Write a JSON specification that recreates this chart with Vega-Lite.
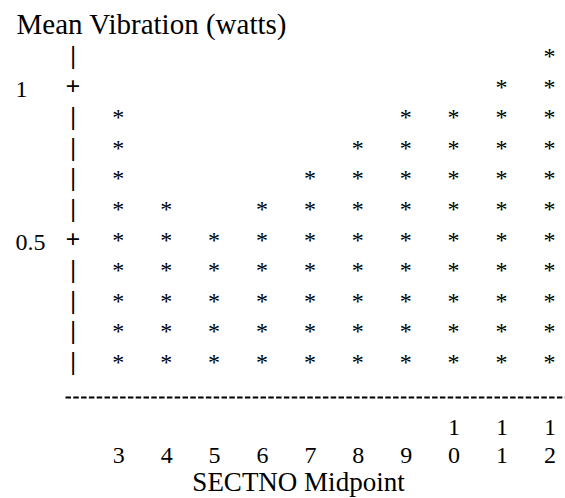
{
  "$schema": "https://vega.github.io/schema/vega-lite/v6.json",
  "width": 500,
  "height": 397,
  "autosize": {"type": "none"},
  "padding": {"left": 65, "top": 0, "right": 0, "bottom": 101},
  "background": "white",
  "config": {"view": {"stroke": null}, "font": "Liberation Serif"},
  "datasets": {
    "stars": [
      {"SECTNO": 3, "level": 0.1}, {"SECTNO": 3, "level": 0.2}, {"SECTNO": 3, "level": 0.3}, {"SECTNO": 3, "level": 0.4}, {"SECTNO": 3, "level": 0.5}, {"SECTNO": 3, "level": 0.6}, {"SECTNO": 3, "level": 0.7}, {"SECTNO": 3, "level": 0.8}, {"SECTNO": 3, "level": 0.9},
      {"SECTNO": 4, "level": 0.1}, {"SECTNO": 4, "level": 0.2}, {"SECTNO": 4, "level": 0.3}, {"SECTNO": 4, "level": 0.4}, {"SECTNO": 4, "level": 0.5}, {"SECTNO": 4, "level": 0.6},
      {"SECTNO": 5, "level": 0.1}, {"SECTNO": 5, "level": 0.2}, {"SECTNO": 5, "level": 0.3}, {"SECTNO": 5, "level": 0.4}, {"SECTNO": 5, "level": 0.5},
      {"SECTNO": 6, "level": 0.1}, {"SECTNO": 6, "level": 0.2}, {"SECTNO": 6, "level": 0.3}, {"SECTNO": 6, "level": 0.4}, {"SECTNO": 6, "level": 0.5}, {"SECTNO": 6, "level": 0.6},
      {"SECTNO": 7, "level": 0.1}, {"SECTNO": 7, "level": 0.2}, {"SECTNO": 7, "level": 0.3}, {"SECTNO": 7, "level": 0.4}, {"SECTNO": 7, "level": 0.5}, {"SECTNO": 7, "level": 0.6}, {"SECTNO": 7, "level": 0.7},
      {"SECTNO": 8, "level": 0.1}, {"SECTNO": 8, "level": 0.2}, {"SECTNO": 8, "level": 0.3}, {"SECTNO": 8, "level": 0.4}, {"SECTNO": 8, "level": 0.5}, {"SECTNO": 8, "level": 0.6}, {"SECTNO": 8, "level": 0.7}, {"SECTNO": 8, "level": 0.8},
      {"SECTNO": 9, "level": 0.1}, {"SECTNO": 9, "level": 0.2}, {"SECTNO": 9, "level": 0.3}, {"SECTNO": 9, "level": 0.4}, {"SECTNO": 9, "level": 0.5}, {"SECTNO": 9, "level": 0.6}, {"SECTNO": 9, "level": 0.7}, {"SECTNO": 9, "level": 0.8}, {"SECTNO": 9, "level": 0.9},
      {"SECTNO": 10, "level": 0.1}, {"SECTNO": 10, "level": 0.2}, {"SECTNO": 10, "level": 0.3}, {"SECTNO": 10, "level": 0.4}, {"SECTNO": 10, "level": 0.5}, {"SECTNO": 10, "level": 0.6}, {"SECTNO": 10, "level": 0.7}, {"SECTNO": 10, "level": 0.8}, {"SECTNO": 10, "level": 0.9},
      {"SECTNO": 11, "level": 0.1}, {"SECTNO": 11, "level": 0.2}, {"SECTNO": 11, "level": 0.3}, {"SECTNO": 11, "level": 0.4}, {"SECTNO": 11, "level": 0.5}, {"SECTNO": 11, "level": 0.6}, {"SECTNO": 11, "level": 0.7}, {"SECTNO": 11, "level": 0.8}, {"SECTNO": 11, "level": 0.9}, {"SECTNO": 11, "level": 1},
      {"SECTNO": 12, "level": 0.1}, {"SECTNO": 12, "level": 0.2}, {"SECTNO": 12, "level": 0.3}, {"SECTNO": 12, "level": 0.4}, {"SECTNO": 12, "level": 0.5}, {"SECTNO": 12, "level": 0.6}, {"SECTNO": 12, "level": 0.7}, {"SECTNO": 12, "level": 0.8}, {"SECTNO": 12, "level": 0.9}, {"SECTNO": 12, "level": 1}, {"SECTNO": 12, "level": 1.1}
    ],
    "yticks": [
      {"level": 0.1}, {"level": 0.2}, {"level": 0.3}, {"level": 0.4}, {"level": 0.5}, {"level": 0.6}, {"level": 0.7}, {"level": 0.8}, {"level": 0.9}, {"level": 1}, {"level": 1.1}
    ]
  },
  "layer": [
    {
      "data": {"name": "stars"},
      "mark": {"type": "text", "text": "*", "font": "Liberation Serif", "fontSize": 24, "baseline": "alphabetic", "dy": 12, "color": "black"},
      "encoding": {
        "x": {
          "field": "SECTNO", "type": "quantitative",
          "scale": {"domain": [1.887, 12.326], "nice": false, "zero": false},
          "axis": {
            "values": [3, 4, 5, 6, 7, 8, 9, 10, 11, 12],
            "labelExpr": "datum.value >= 10 ? split(datum.label, '') : ['', datum.label]",
            "ticks": false, "tickSize": 0, "grid": false,
            "domain": true, "domainDash": [5.5, 2.3], "domainWidth": 2, "domainColor": "black",
            "labelFont": "Liberation Serif", "labelFontSize": 24, "labelColor": "black",
            "labelBaseline": "alphabetic", "labelLineHeight": 28, "labelPadding": 37,
            "labelFlush": false, "labelOverlap": false,
            "title": "SECTNO Midpoint", "titleFont": "Liberation Serif", "titleFontSize": 27, "titleFontWeight": "normal", "titleColor": "black",
            "titleX": 233, "titleY": 93, "titleAlign": "center", "titleBaseline": "alphabetic"
          }
        },
        "y": {
          "field": "level", "type": "quantitative",
          "scale": {"domain": [-0.0275, 1.27], "nice": false, "zero": false},
          "axis": {
            "values": [0.5, 1], "format": "~g",
            "domain": false, "ticks": false, "tickSize": 0, "grid": false,
            "labelFont": "Liberation Serif", "labelFontSize": 24, "labelColor": "black",
            "labelAlign": "left", "labelPadding": 50, "labelBaseline": "alphabetic", "labelOffset": 14,
            "title": "Mean Vibration (watts)", "titleFont": "Liberation Serif", "titleFontSize": 29, "titleFontWeight": "normal", "titleColor": "black",
            "titleAngle": 0, "titleAlign": "left", "titleBaseline": "alphabetic", "titleX": -49, "titleY": 33
          }
        }
      }
    },
    {
      "data": {"name": "yticks"},
      "mark": {"type": "text", "font": "Liberation Serif", "fontSize": 26, "fontWeight": "bold", "baseline": "alphabetic", "dy": 12, "color": "black"},
      "encoding": {
        "x": {"datum": 2.054, "type": "quantitative"},
        "y": {"field": "level", "type": "quantitative"},
        "text": {"condition": {"test": "datum.level == 0.5 || datum.level == 1", "value": "+"}, "value": "|"}
      }
    }
  ]
}
